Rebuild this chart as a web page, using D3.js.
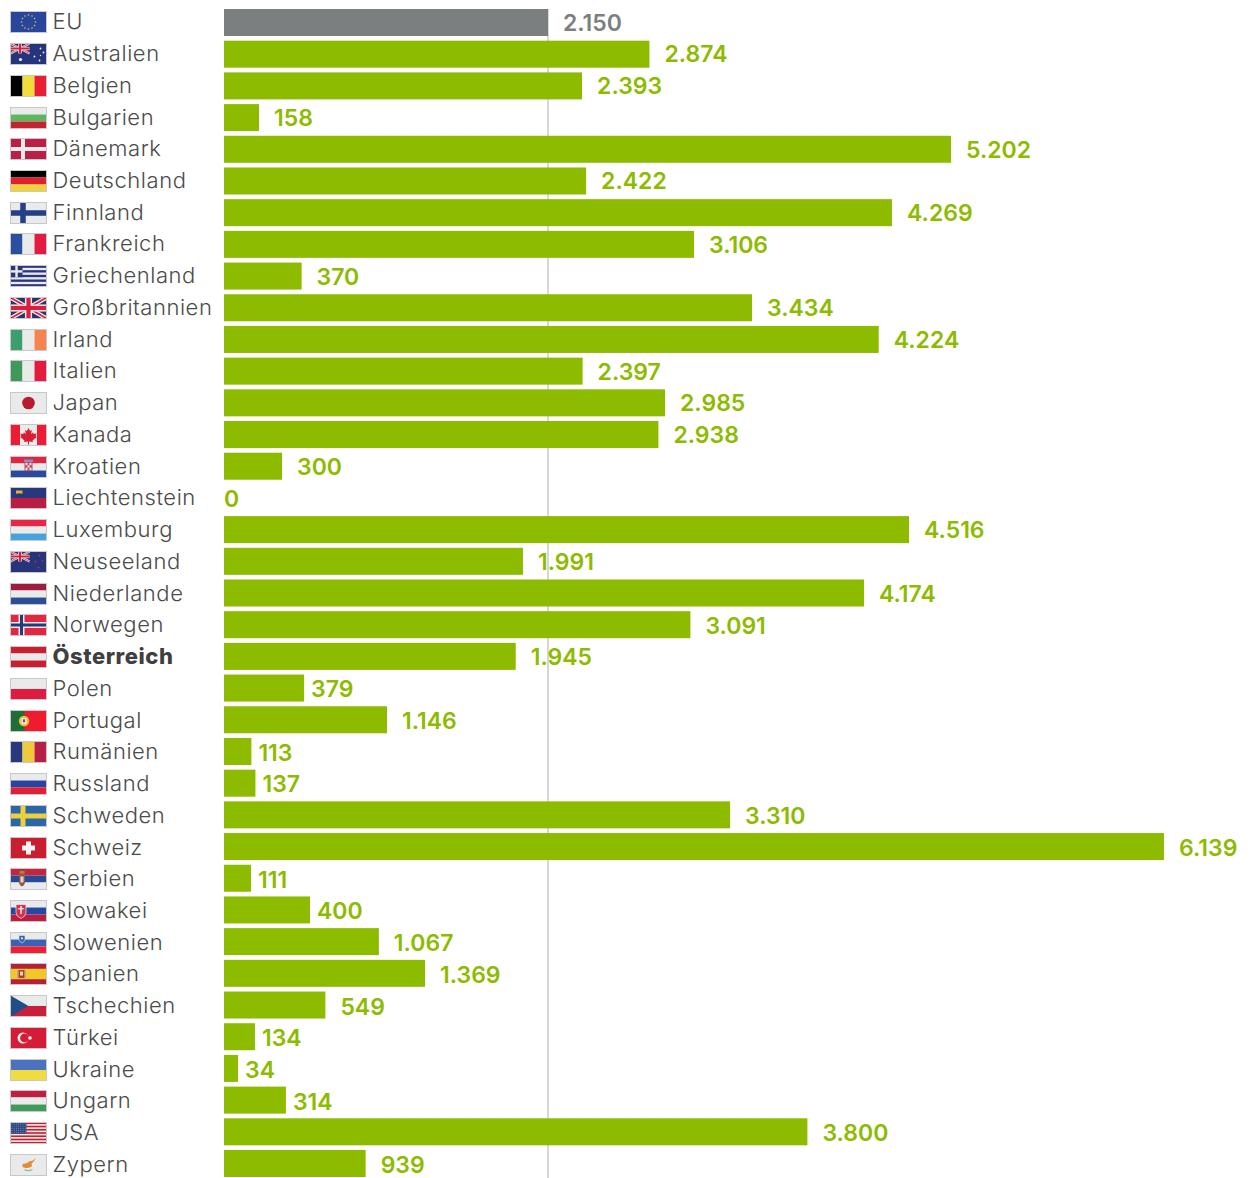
<!DOCTYPE html>
<html lang="de">
<head>
<meta charset="utf-8">
<title>Länder</title>
<script src="https://cdn.jsdelivr.net/npm/d3@7/dist/d3.min.js"></script>
<style>
  html, body { margin: 0; padding: 0; background: #fff; }
  svg { display: block; }
  text { font-family: "Inter", "Lato", "Noto Sans", sans-serif; }
</style>
</head>
<body>
<script>
// Country names, top to bottom.
const countries = ["EU","Australien","Belgien","Bulgarien","Dänemark","Deutschland","Finnland","Frankreich","Griechenland","Großbritannien","Irland","Italien","Japan","Kanada","Kroatien","Liechtenstein","Luxemburg","Neuseeland","Niederlande","Norwegen","Österreich","Polen","Portugal","Rumänien","Russland","Schweden","Schweiz","Serbien","Slowakei","Slowenien","Spanien","Tschechien","Türkei","Ukraine","Ungarn","USA","Zypern"];

// Value for each country, same order.
const values = [2150,2874,2393,158,5202,2422,4269,3106,370,3434,4224,2397,2985,2938,300,0,4516,1991,4174,3091,1945,379,1146,113,137,3310,6139,111,400,1067,1369,549,134,34,314,3800,939];

// Bar lengths are stretched in sections: value breakpoints and their lengths in px.
const lengthBreaks = [0,34,158,300,400,1146,1369,2150,2985,3106,3434,4174,4269,4516,5202,6139];
const lengthPixels = [0,14,35,58,86,163,201,324,441,470,528,640,668,685,727,940];

// Countries whose value label sits close to the end of the bar.
const tightLabels = new Set(["Polen","Rumänien","Russland","Serbien","Slowakei","Türkei","Ukraine","Ungarn"]);

const referenceCountry = "EU";
const highlightCountry = "Österreich";

const WIDTH = 1253, HEIGHT = 1178;
const BAR_LEFT = 224, FLAG_LEFT = 10.5, FLAG_W = 36, FLAG_H = 21, NAME_LEFT = 52.5;
const GREEN = "#8cbb00", GREY = "#7c7f7f", INK = "#4b4b4b";

const svg = d3.select("body").append("svg")
  .attr("width", WIDTH).attr("height", HEIGHT)
  .attr("viewBox", [0, 0, WIDTH, HEIGHT]);

const yBar = d3.scaleBand().domain(countries).range([9, 1177]).paddingInner(0.148).paddingOuter(0);
const yRow = d3.scalePoint().domain(countries).range([21.8, 1164.4]);
const barLen = d3.scaleLinear().domain(lengthBreaks).range(lengthPixels);

// Reference line at the EU value.
const refX = BAR_LEFT + barLen(values[countries.indexOf(referenceCountry)]);
svg.append("line").attr("x1", refX).attr("x2", refX)
  .attr("y1", 9).attr("y2", HEIGHT)
  .attr("stroke", "#bdbdbd").attr("stroke-width", 1.2);

const rows = countries.map((name, i) => ({ name, value: values[i] }));

svg.append("g").selectAll("rect").data(rows.filter(d => d.value > 0)).join("rect")
  .attr("x", BAR_LEFT)
  .attr("y", d => yBar(d.name))
  .attr("width", d => barLen(d.value))
  .attr("height", yBar.bandwidth())
  .attr("fill", d => d.name === referenceCountry ? GREY : GREEN);

// Value labels use a dot as the thousands separator.
const fmt = d3.formatLocale({ decimal: ",", thousands: ".", grouping: [3], currency: ["", "€"] }).format(",d");
svg.append("g").selectAll("text").data(rows).join("text")
  .attr("x", d => BAR_LEFT + barLen(d.value) + (d.value === 0 ? 0 : tightLabels.has(d.name) ? 7 : 15))
  .attr("y", d => yRow(d.name) + 8.8)
  .attr("font-size", 23).attr("font-weight", 600)
  .attr("fill", d => d.name === referenceCountry ? GREY : GREEN)
  .text(d => fmt(d.value));

svg.append("g").selectAll("text").data(rows).join("text")
  .attr("x", NAME_LEFT)
  .attr("y", d => yRow(d.name) + 7.5)
  .attr("font-size", 22)
  .attr("letter-spacing", 0.55)
  .attr("font-weight", d => d.name === highlightCountry ? 800 : 300)
  .attr("fill", d => d.name === highlightCountry ? "#3f3f3f" : INK)
  .text(d => d.name);

/* ---------- flags, drawn in a 36 x 21 box ---------- */
const W = "#e9ebeb";
const hStripes = {
  "Bulgarien":[W,"#5cb85f","#c3252f"], "Deutschland":["#000","#e01f2f","#f2d23a"],
  "Kroatien":["#df2744",W,"#2a4a9c"], "Liechtenstein":["#27387f","#b91e45"],
  "Luxemburg":["#e52845",W,"#46a3dc"], "Niederlande":["#a01c3e",W,"#2a4f96"],
  "Österreich":["#c9202f",W,"#c9202f"], "Polen":[W,"#df1c40"],
  "Russland":[W,"#2a42a0","#e21f35"], "Serbien":["#c8243e","#2a4a96",W],
  "Slowakei":[W,"#2448a4","#b91e42"], "Slowenien":[W,"#3a62b4","#ee1f33"],
  "Tschechien":[W,"#c8203a"], "Ukraine":["#4a72c0","#eedc40"], "Ungarn":["#bf2040",W,"#3e9b58"]
};
const vStripes = {
  "Belgien":["#000","#f2dc3a","#e61f34"], "Frankreich":["#2a4ea0",W,"#e21c40"],
  "Irland":["#3a9f6b",W,"#f58450"], "Italien":["#3d9a58",W,"#e31c3f"],
  "Rumänien":["#28387f","#efcb3c","#b91e45"]
};
const solid = {
  "EU":"#2a459c", "Australien":"#26347c", "Neuseeland":"#26347c", "Dänemark":"#bb1e47",
  "Finnland":W, "Griechenland":W, "Großbritannien":"#27336f", "Japan":W, "Kanada":W,
  "Norwegen":"#e3273f", "Portugal":"#ee1c2e", "Schweden":"#2c67a5", "Schweiz":"#c81e2e",
  "Spanien":"#b7203a", "Türkei":"#d41c36", "USA":W, "Zypern":W
};

function rect(g, x, y, w, h, fill) {
  g.append("rect").attr("x", x).attr("y", y).attr("width", w).attr("height", h).attr("fill", fill);
}
function dot(g, x, y, r, fill) {
  g.append("circle").attr("cx", x).attr("cy", y).attr("r", r).attr("fill", fill);
}
function cross(g, cx, cy, t, fill) {
  rect(g, cx - t / 2, 0, t, FLAG_H, fill);
  rect(g, 0, cy - t / 2, FLAG_W, t, fill);
}
function unionJack(g, w, h) {
  const s = g.append("g");
  rect(s, 0, 0, w, h, "#27336f");
  const diag = `M0,0L${w},${h}M${w},0L0,${h}`;
  s.append("path").attr("d", diag).attr("stroke", "#eee").attr("stroke-width", h * 0.2);
  s.append("path").attr("d", diag).attr("stroke", "#d8213f").attr("stroke-width", h * 0.08);
  rect(s, w / 2 - h * 0.17, 0, h * 0.34, h, "#eee");
  rect(s, 0, h / 2 - h * 0.17, w, h * 0.34, "#eee");
  rect(s, w / 2 - h * 0.1, 0, h * 0.2, h, "#d8213f");
  rect(s, 0, h / 2 - h * 0.1, w, h * 0.2, "#d8213f");
}

const emblems = {
  "EU": g => d3.range(12).forEach(i => {
    const a = i * Math.PI / 6;
    dot(g, 18 + 7 * Math.cos(a), 10.5 + 7 * Math.sin(a), 0.8, "#e8c53a");
  }),
  "Australien": g => {
    unionJack(g, 19, 10);
    [[10,16,1.6],[24,13,.9],[30,5,.9],[33,9,.9],[29,17,.9],[30,12,.7]].forEach(p => dot(g, p[0], p[1], p[2], "#eef"));
  },
  "Neuseeland": g => {
    unionJack(g, 19, 10);
    [[29,4,.9],[25,10,.9],[32,9,.9],[28,16,1]].forEach(p => dot(g, p[0], p[1], p[2], "#c82845"));
  },
  "Dänemark": g => cross(g, 12.5, 10.5, 4, W),
  "Finnland": g => cross(g, 12.5, 10.5, 5.5, "#243f86"),
  "Griechenland": g => {
    d3.range(0, 9, 2).forEach(i => rect(g, 0, i * 21 / 9, 36, 21 / 9, "#2a3580"));
    rect(g, 0, 0, 12, 11.7, "#2a3580");
    rect(g, 4.8, 0, 2.4, 11.7, W);
    rect(g, 0, 4.7, 12, 2.4, W);
  },
  "Großbritannien": g => unionJack(g, 36, 21),
  "Japan": g => dot(g, 18, 10.5, 6.3, "#b71c2c"),
  "Kanada": g => {
    rect(g, 0, 0, 9.5, 21, "#ee1c33");
    rect(g, 26.5, 0, 9.5, 21, "#ee1c33");
    g.append("path").attr("fill", "#d81e30")
      .attr("d", "M18,3.5l1.6,3 1.8-.9-.8,4.2 2-2 .6,1.6 2.8-.5-.9,2.9 1.2.7-4.3,3.4.5,1.6-4-.5v3h-1v-3l-4,.5.5-1.6-4.3-3.4 1.2-.7-.9-2.9 2.8.5.6-1.6 2,2-.8-4.2 1.8.9z");
  },
  "Kroatien": g => {
    rect(g, 13.5, 3, 9, 2.6, "#7d93c8");
    rect(g, 14, 5.6, 8, 8.5, "#d83a52");
    d3.range(3).forEach(r => d3.range(3).forEach(c => {
      if ((r + c) % 2 === 0) rect(g, 15 + c * 2, 6.3 + r * 2.4, 2, 2.4, "#f1f1f1");
    }));
  },
  "Liechtenstein": g => { rect(g, 5.5, 3, 6.5, 3.2, "#d9b43a"); rect(g, 6.5, 6.2, 4.5, 1, "#3a3a2a"); },
  "Norwegen": g => { cross(g, 11, 10.5, 6, W); cross(g, 11, 10.5, 3, "#243a80"); },
  "Portugal": g => {
    rect(g, 0, 0, 14, 21, "#1f6e38");
    dot(g, 13.5, 10.5, 5.2, "#e7c33a");
    rect(g, 11, 7.5, 5, 6, "#f0f0f0");
    rect(g, 12.4, 8.8, 2.2, 3, "#c03040");
  },
  "Schweden": g => cross(g, 12.5, 10.5, 5, "#eece3a"),
  "Schweiz": g => {
    rect(g, 15.5, 4, 5, 13, "#f4f4f4");
    rect(g, 11.5, 8, 13, 5, "#f4f4f4");
  },
  "Serbien": g => {
    g.append("path").attr("fill", "#8a5a50").attr("d", "M8.5,5h6v9q0,2-3,4q-3-2-3-4z");
    rect(g, 9, 2.5, 5, 2.5, "#a28a3c");
    rect(g, 10, 8, 3, 6, "#e6d4c8");
  },
  "Slowakei": g => {
    g.append("path").attr("fill", "#d8324a").attr("stroke", "#eee").attr("stroke-width", .7)
      .attr("d", "M5.5,4h10v8q0,4-5,6q-5-2-5-6z");
    rect(g, 9.8, 5.5, 1.5, 8, "#eee");
    rect(g, 7.8, 7.5, 5.5, 1.3, "#eee");
  },
  "Slowenien": g => {
    g.append("path").attr("fill", "#3a62b4").attr("stroke", "#e8e8e8").attr("stroke-width", .6)
      .attr("d", "M8.5,3h6v4q0,2-3,3.5q-3-1.5-3-3.5z");
    dot(g, 11.5, 5.8, 1.1, "#eee");
  },
  "Spanien": g => {
    rect(g, 0, 5.25, 36, 10.5, "#f0c828");
    rect(g, 8, 6.5, 6, 8, "#b23a2a");
    rect(g, 9.5, 8, 3, 4, "#e7d8a0");
    rect(g, 6.5, 7, 1.2, 7, "#aaa");
    rect(g, 14.3, 7, 1.2, 7, "#aaa");
  },
  "Tschechien": g => g.append("path").attr("fill", "#1f4f8a").attr("d", "M0,0L18,10.5L0,21z"),
  "Türkei": g => {
    dot(g, 12.5, 10.5, 5.5, "#f2f2f2");
    dot(g, 14, 10.5, 4.4, "#d41c36");
    dot(g, 19.5, 10.5, 1.8, "#f2f2f2");
  },
  "USA": g => {
    d3.range(0, 13, 2).forEach(i => rect(g, 0, i * 21 / 13, 36, 21 / 13, "#c8202f"));
    rect(g, 0, 0, 16, 11.3, "#2e4a82");
    d3.range(5).forEach(r => d3.range(7).forEach(c => dot(g, 1.5 + c * 2.2, 1.5 + r * 2.1, .45, "#b8c2d8")));
  },
  "Zypern": g => {
    g.append("path").attr("fill", "#e58a35")
      .attr("d", "M12,9.5l4-.8 3-2 3,-.4 3.5-2.8-2.5,3.8-2,2 .5,2.5-3,1.5-3.5.3-3-1.2z");
    g.append("path").attr("fill", "none").attr("stroke", "#8ab59a").attr("stroke-width", 1.2)
      .attr("d", "M14,15q4,2.5 8,0");
  }
};

rows.forEach(d => {
  const g = svg.append("g")
    .attr("transform", `translate(${FLAG_LEFT},${Math.round(yRow(d.name) - FLAG_H / 2) + 0.5})`);
  const clipId = "clip" + countries.indexOf(d.name);
  g.append("clipPath").attr("id", clipId).append("rect").attr("width", FLAG_W).attr("height", FLAG_H);
  const body = g.append("g").attr("clip-path", `url(#${clipId})`);

  if (hStripes[d.name]) {
    const c = hStripes[d.name];
    c.forEach((col, i) => rect(body, 0, i * FLAG_H / c.length, FLAG_W, FLAG_H / c.length, col));
  } else if (vStripes[d.name]) {
    const c = vStripes[d.name];
    c.forEach((col, i) => rect(body, i * FLAG_W / c.length, 0, FLAG_W / c.length, FLAG_H, col));
  } else {
    rect(body, 0, 0, FLAG_W, FLAG_H, solid[d.name]);
  }
  if (emblems[d.name]) emblems[d.name](body);

  g.append("rect").attr("width", FLAG_W).attr("height", FLAG_H)
    .attr("fill", "none").attr("stroke", "#c8c8cc").attr("stroke-width", 1);
});
</script>
</body>
</html>
